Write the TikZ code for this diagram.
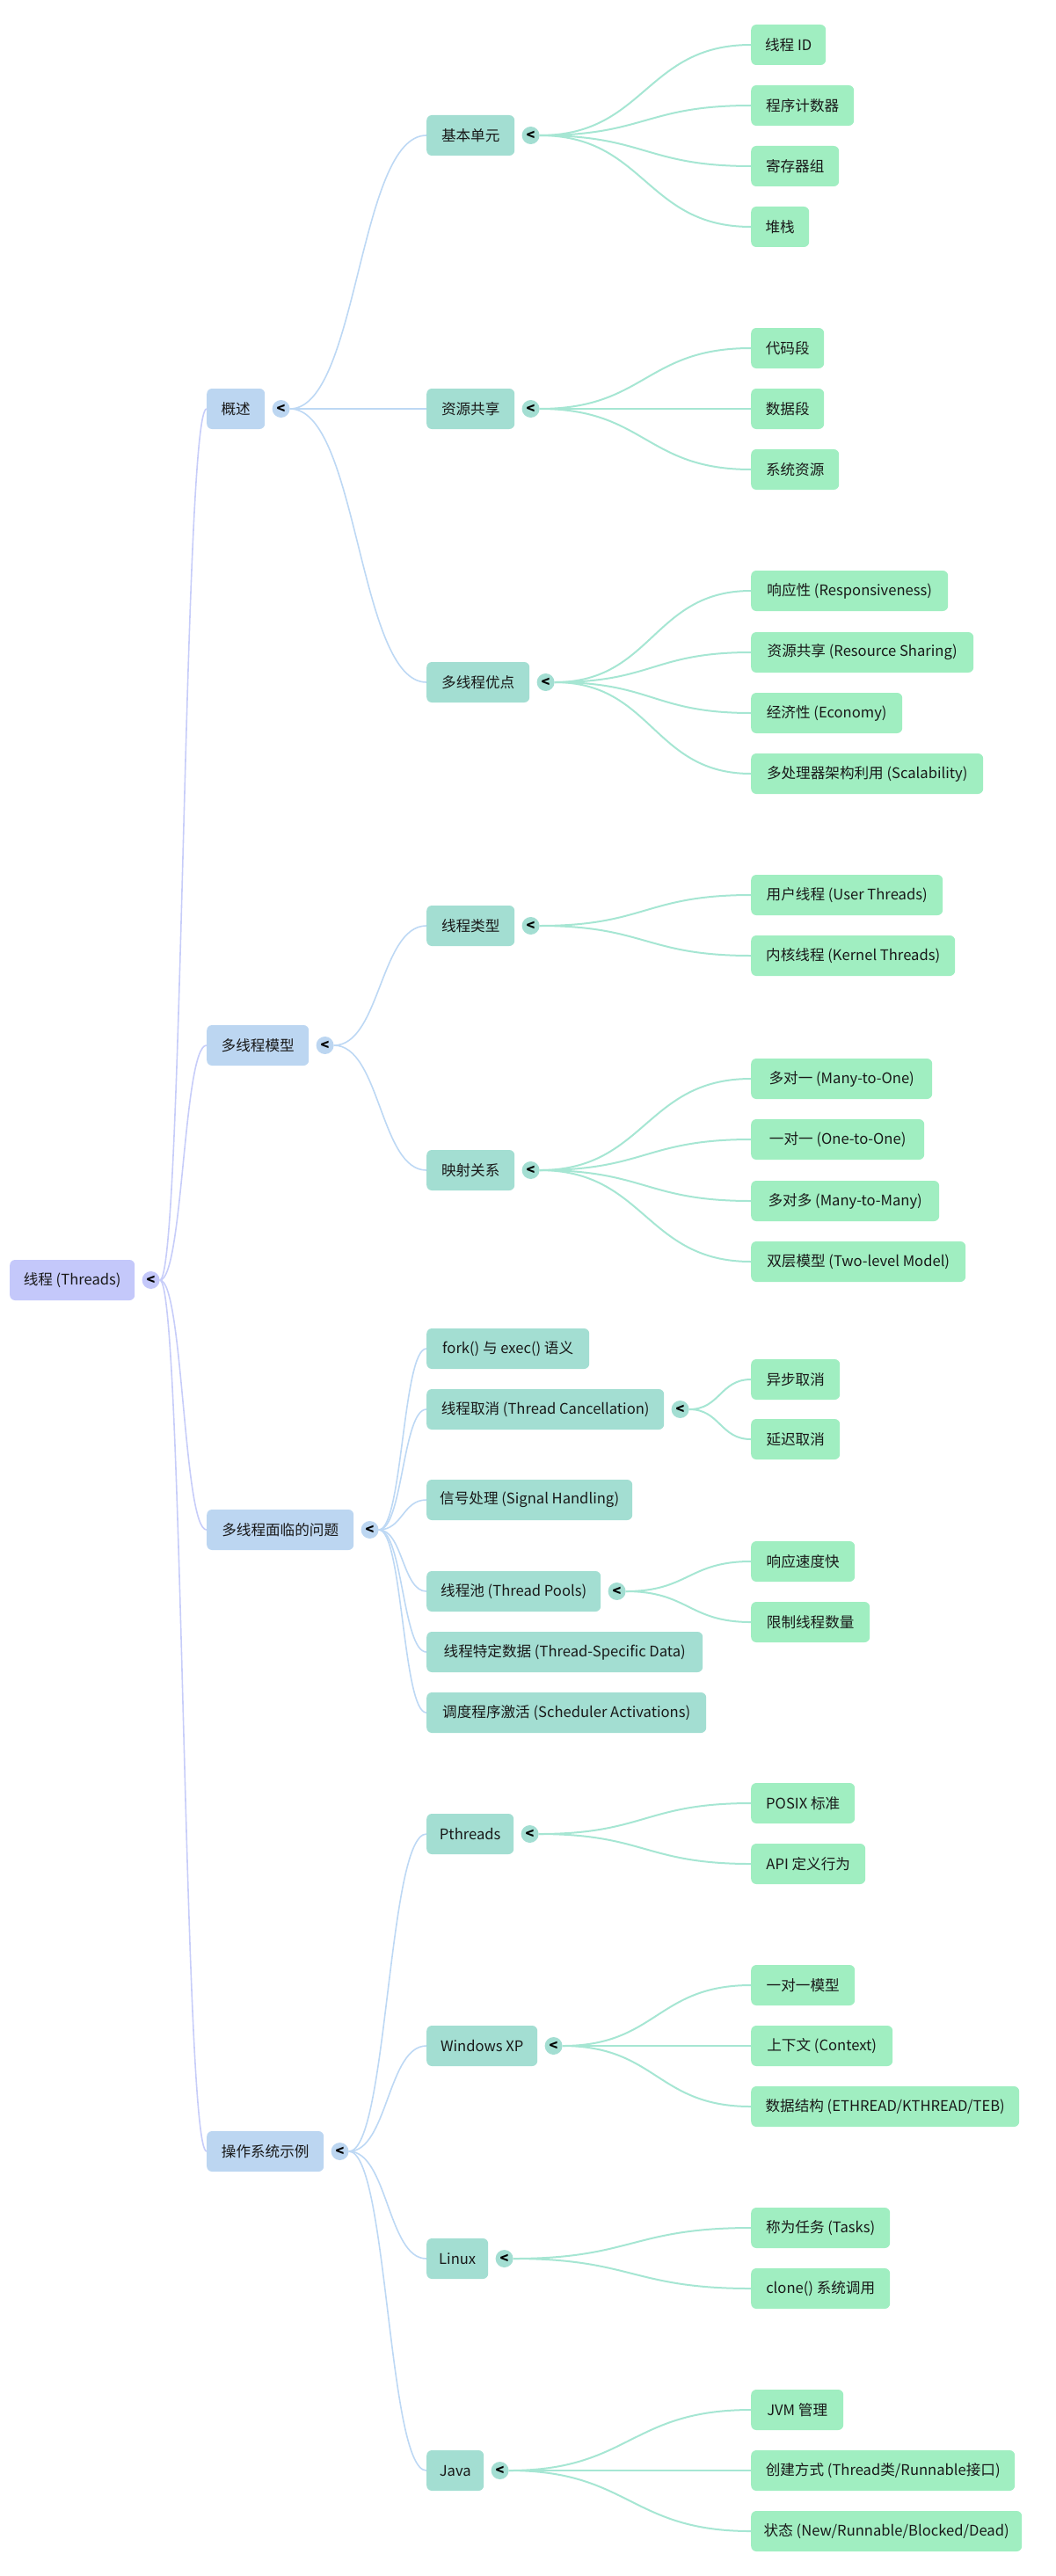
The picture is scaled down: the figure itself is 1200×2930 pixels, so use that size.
\documentclass[tikz,border=0pt]{standalone}
\usepackage{fontspec}
\newfontfamily\cjk{Noto Sans CJK SC}
\usetikzlibrary{positioning,calc}
\definecolor{rootc}{HTML}{C4C8FA}
\definecolor{lonec}{HTML}{BCD6F1}
\definecolor{ltwoc}{HTML}{A3DED2}
\definecolor{leafc}{HTML}{A0EEC1}
\definecolor{rootln}{HTML}{C7CDF9}
\definecolor{loneln}{HTML}{BDD8F4}
\definecolor{ltwoln}{HTML}{A6E6D3}
\tikzset{
  box/.style={rounded corners=6pt, minimum height=46pt, inner xsep=11pt, inner ysep=0pt,
    anchor=west, font=\cjk\fontsize{16.6pt}{20pt}\selectfont, text=black!90},
  rootbox/.style={box, fill=rootc},
  lonebox/.style={box, fill=lonec},
  ltwobox/.style={box, fill=ltwoc},
  leafbox/.style={box, fill=leafc},
  tog/.style={circle, inner sep=0pt, minimum size=20pt, font=\cjk\bfseries\fontsize{16pt}{16pt}\selectfont, text=black},
  rootlink/.style={draw=rootln, line width=1.6pt},
  lonelink/.style={draw=loneln, line width=1.6pt},
  ltwolink/.style={draw=ltwoln, line width=2pt},
}
\newcommand\mmlink[3]{\draw[#1] let \p1=(#2.east), \p2=(#3.west) in (\p1) .. controls ({(\x1+\x2)/2},\y1) and ({(\x1+\x2)/2},\y2) .. (\p2);}
\begin{document}
\begin{tikzpicture}[x=1pt,y=-1pt]
\useasboundingbox (0,0) rectangle (1200,2930);
% root
\node[rootbox, minimum width=142pt] (r) at (11,1456) {线程 (Threads)};
\node[tog, fill=rootc, right=8pt of r] (rt) {<};
% level 1
\node[lonebox, minimum width=66pt] (a) at (235,465) {概述};
\node[lonebox, minimum width=116pt] (b) at (235,1189) {多线程模型};
\node[lonebox, minimum width=167pt] (c) at (235,1740) {多线程面临的问题};
\node[lonebox, minimum width=133pt] (d) at (235,2447) {操作系统示例};
\foreach \k in {a,b,c,d}{\node[tog, fill=lonec, right=8pt of \k] (\k t) {<};}
% level 2
\node[ltwobox, minimum width=100pt] (a1) at (485,154) {基本单元};
\node[ltwobox, minimum width=100pt] (a2) at (485,465) {资源共享};
\node[ltwobox, minimum width=117pt] (a3) at (485,776) {多线程优点};
\node[ltwobox, minimum width=100pt] (b1) at (485,1053) {线程类型};
\node[ltwobox, minimum width=100pt] (b2) at (485,1331) {映射关系};
\node[ltwobox, minimum width=185pt] (c1) at (485,1534) {fork() 与 exec() 语义};
\node[ltwobox, minimum width=270pt] (c2) at (485,1603) {线程取消 (Thread Cancellation)};
\node[ltwobox, minimum width=234pt] (c3) at (485,1706) {信号处理 (Signal Handling)};
\node[ltwobox, minimum width=198pt] (c4) at (485,1810) {线程池 (Thread Pools)};
\node[ltwobox, minimum width=314pt] (c5) at (485,1879) {线程特定数据 (Thread-Specific Data)};
\node[ltwobox, minimum width=318pt] (c6) at (485,1948) {调度程序激活 (Scheduler Activations)};
\node[ltwobox, minimum width=99pt] (d1) at (485,2086) {Pthreads};
\node[ltwobox, minimum width=126pt] (d2) at (485,2327) {Windows XP};
\node[ltwobox, minimum width=70pt] (d3) at (485,2569) {Linux};
\node[ltwobox, minimum width=65pt] (d4) at (485,2810) {Java};
\foreach \k in {a1,a2,a3,b1,b2,c2,c4,d1,d2,d3,d4}{\node[tog, fill=ltwoc, right=8pt of \k] (\k t) {<};}
% leaves
\node[leafbox, minimum width=85pt] (a11) at (854,51) {线程 ID};
\node[leafbox, minimum width=117pt] (a12) at (854,120) {程序计数器};
\node[leafbox, minimum width=100pt] (a13) at (854,189) {寄存器组};
\node[leafbox, minimum width=66pt] (a14) at (854,258) {堆栈};
\node[leafbox, minimum width=83pt] (a21) at (854,396) {代码段};
\node[leafbox, minimum width=83pt] (a22) at (854,465) {数据段};
\node[leafbox, minimum width=100pt] (a23) at (854,534) {系统资源};
\node[leafbox, minimum width=224pt] (a31) at (854,672) {响应性 (Responsiveness)};
\node[leafbox, minimum width=253pt] (a32) at (854,742) {资源共享 (Resource Sharing)};
\node[leafbox, minimum width=172pt] (a33) at (854,811) {经济性 (Economy)};
\node[leafbox, minimum width=264pt] (a34) at (854,880) {多处理器架构利用 (Scalability)};
\node[leafbox, minimum width=218pt] (b11) at (854,1018) {用户线程 (User Threads)};
\node[leafbox, minimum width=232pt] (b12) at (854,1087) {内核线程 (Kernel Threads)};
\node[leafbox, minimum width=206pt] (b21) at (854,1227) {多对一 (Many-to-One)};
\node[leafbox, minimum width=197pt] (b22) at (854,1296) {一对一 (One-to-One)};
\node[leafbox, minimum width=214pt] (b23) at (854,1366) {多对多 (Many-to-Many)};
\node[leafbox, minimum width=244pt] (b24) at (854,1435) {双层模型 (Two-level Model)};
\node[leafbox, minimum width=101pt] (c21) at (854,1569) {异步取消};
\node[leafbox, minimum width=101pt] (c22) at (854,1637) {延迟取消};
\node[leafbox, minimum width=118pt] (c41) at (854,1776) {响应速度快};
\node[leafbox, minimum width=135pt] (c42) at (854,1845) {限制线程数量};
\node[leafbox, minimum width=118pt] (d11) at (854,2051) {POSIX 标准};
\node[leafbox, minimum width=130pt] (d12) at (854,2120) {API 定义行为};
\node[leafbox, minimum width=118pt] (d21) at (854,2258) {一对一模型};
\node[leafbox, minimum width=161pt] (d22) at (854,2327) {上下文 (Context)};
\node[leafbox, minimum width=305pt] (d23) at (854,2396) {数据结构 (ETHREAD/KTHREAD/TEB)};
\node[leafbox, minimum width=158pt] (d31) at (854,2534) {称为任务 (Tasks)};
\node[leafbox, minimum width=158pt] (d32) at (854,2603) {clone() 系统调用};
\node[leafbox, minimum width=105pt] (d41) at (854,2741) {JVM 管理};
\node[leafbox, minimum width=300pt] (d42) at (854,2810) {创建方式 (Thread类/Runnable接口)};
\node[leafbox, minimum width=308pt] (d43) at (854,2879) {状态 (New/Runnable/Blocked/Dead)};
% links root -> level 1
\foreach \k in {a,b,c,d}{\mmlink{rootlink}{rt}{\k}}
% level 1 -> level 2
\foreach \k in {a1,a2,a3}{\mmlink{lonelink}{at}{\k}}
\foreach \k in {b1,b2}{\mmlink{lonelink}{bt}{\k}}
\foreach \k in {c1,c2,c3,c4,c5,c6}{\mmlink{lonelink}{ct}{\k}}
\foreach \k in {d1,d2,d3,d4}{\mmlink{lonelink}{dt}{\k}}
% level 2 -> leaves
\foreach \k in {a11,a12,a13,a14}{\mmlink{ltwolink}{a1t}{\k}}
\foreach \k in {a21,a22,a23}{\mmlink{ltwolink}{a2t}{\k}}
\foreach \k in {a31,a32,a33,a34}{\mmlink{ltwolink}{a3t}{\k}}
\foreach \k in {b11,b12}{\mmlink{ltwolink}{b1t}{\k}}
\foreach \k in {b21,b22,b23,b24}{\mmlink{ltwolink}{b2t}{\k}}
\foreach \k in {c21,c22}{\mmlink{ltwolink}{c2t}{\k}}
\foreach \k in {c41,c42}{\mmlink{ltwolink}{c4t}{\k}}
\foreach \k in {d11,d12}{\mmlink{ltwolink}{d1t}{\k}}
\foreach \k in {d21,d22,d23}{\mmlink{ltwolink}{d2t}{\k}}
\foreach \k in {d31,d32}{\mmlink{ltwolink}{d3t}{\k}}
\foreach \k in {d41,d42,d43}{\mmlink{ltwolink}{d4t}{\k}}
\end{tikzpicture}
\end{document}
